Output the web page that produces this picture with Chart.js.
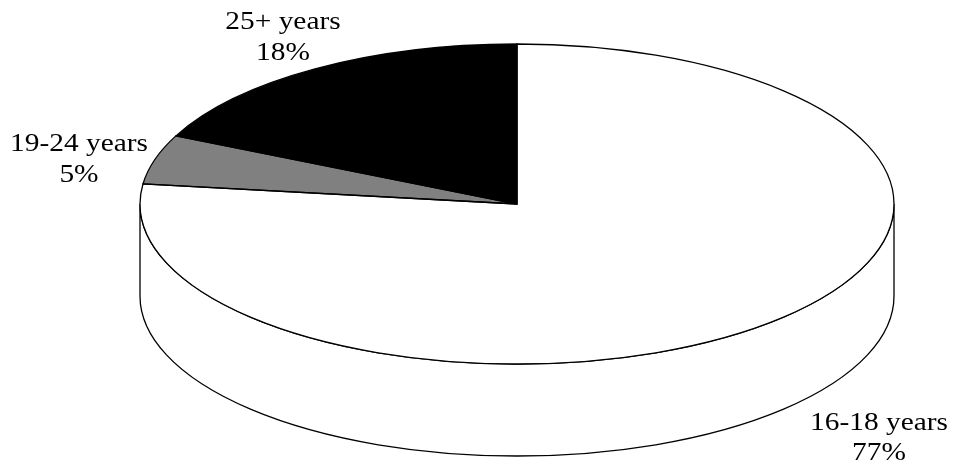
<!DOCTYPE html>
<html>
<head>
<meta charset="utf-8">
<style>
  html, body { margin: 0; padding: 0; background: #fff; }
  canvas { display: block; }
</style>
<script src="https://cdn.jsdelivr.net/npm/chart.js@4"></script>
</head>
<body>
<canvas id="pieChart" width="953" height="468"></canvas>
<script>
const categories = ['16-18 years', '19-24 years', '25+ years'];
const shares = [77, 5, 18];
const sliceColors = ['#ffffff', '#808080', '#000000'];

// the pie is squashed vertically and sits on a wall to look three dimensional
const squash = 160 / 377;
const wallDepth = 92;
const outlineWidth = 1.3;
const labelFont = '26px "Liberation Serif"';
const labelStretch = 1.13;
const labelLines = [[430, 460], [151, 182], [29, 60]];
const labelCenters = [879, 79, 283];

function outlineSlice(ctx, arc) {
    ctx.beginPath();
    ctx.moveTo(arc.x, arc.y);
    ctx.arc(arc.x, arc.y, arc.outerRadius, arc.startAngle, arc.endAngle);
    ctx.closePath();
}

// serif text widened a little, drawn around its centre
function drawLabel(ctx, text, x, y) {
    ctx.save();
    ctx.translate(x, y);
    ctx.scale(labelStretch, 1);
    ctx.fillText(text, 0, 0);
    ctx.restore();
}

const pseudo3d = {
    id: 'pseudo3d',
    beforeDatasetsDraw(chart) {
        const ctx = chart.ctx;
        const first = chart.getDatasetMeta(0).data[0];
        const cx = first.x, cy = first.y, r = first.outerRadius;

        // side wall, front half of the ellipse pushed down
        ctx.save();
        ctx.beginPath();
        ctx.ellipse(cx, cy + wallDepth, r, r * squash, 0, 0, Math.PI);
        ctx.lineTo(cx - r, cy);
        ctx.ellipse(cx, cy, r, r * squash, 0, Math.PI, 0, true);
        ctx.closePath();
        ctx.fillStyle = '#ffffff';
        ctx.fill();
        ctx.strokeStyle = '#000000';
        ctx.lineWidth = outlineWidth;
        ctx.stroke();
        ctx.restore();

        ctx.save();
        ctx.translate(cx, cy);
        ctx.scale(1, squash);
        ctx.translate(-cx, -cy);
    },
    afterDatasetsDraw(chart) {
        const ctx = chart.ctx;
        const arcs = chart.getDatasetMeta(0).data;

        // outlines are stroked after the transform is dropped so the line stays even
        arcs.forEach(function(arc) {
            outlineSlice(ctx, arc);
            ctx.save();
            ctx.setTransform(1, 0, 0, 1, 0, 0);
            ctx.strokeStyle = '#000000';
            ctx.lineWidth = outlineWidth;
            ctx.stroke();
            ctx.restore();
        });
        ctx.restore();

        ctx.save();
        ctx.font = labelFont;
        ctx.fillStyle = '#000000';
        ctx.textAlign = 'center';
        ctx.textBaseline = 'alphabetic';
        categories.forEach(function(name, i) {
            drawLabel(ctx, name, labelCenters[i], labelLines[i][0]);
            drawLabel(ctx, shares[i] + '%', labelCenters[i], labelLines[i][1]);
        });
        ctx.restore();
    }
};

const ctx = document.getElementById('pieChart').getContext('2d');
const pieChart = new Chart(ctx, {
    type: 'pie',
    data: {
        labels: categories,
        datasets: [{
            data: shares,
            backgroundColor: sliceColors,
            borderWidth: 0
        }]
    },
    options: {
        responsive: false,
        animation: false,
        radius: 377,
        layout: { padding: { left: 81, bottom: 60 } },
        plugins: {
            legend: { display: false },
            title: { display: false },
            tooltip: { enabled: false }
        }
    },
    plugins: [pseudo3d]
});
</script>
</body>
</html>
